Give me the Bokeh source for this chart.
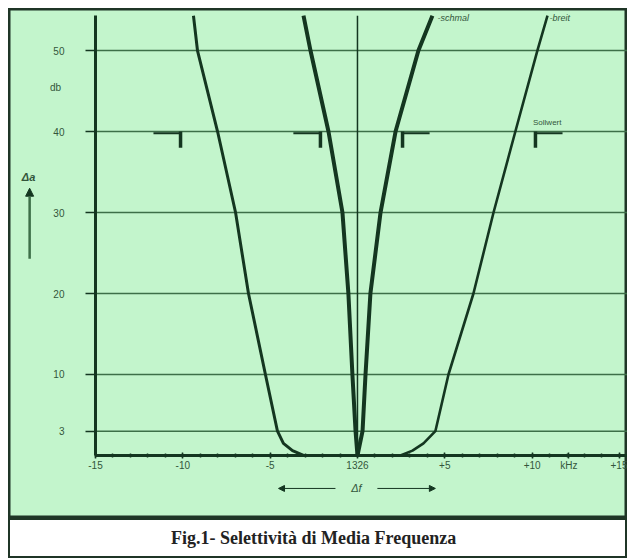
from bokeh.plotting import figure
from bokeh.models import Range1d, FixedTicker, Label, Arrow, NormalHead
from bokeh.layouts import column
from bokeh.embed import file_html
from bokeh.resources import INLINE

# ---- data (kHz offset from 1326 kHz, attenuation in dB) ----
DB_TICKS = [3, 10, 20, 30, 40, 50]
DB_LABELS = ["3", "10", "20", "30", "40", "50"]
KHZ_TICKS = [-15, -10, -5, 0, 5, 10, 12.1, 15]
KHZ_LABELS = ["-15", "-10", "-5", "1326", "+5", "+10", "kHz", "+15"]
KHZ_MINOR = list(range(-15, 16))

breit_left_khz = [-9.39, -9.16, -8.01, -6.98, -6.24, -5.27, -4.58, -4.24, -3.72, -3.09]
breit_left_db = [54.3, 50, 40, 30, 20, 10, 3, 1.5, 0.6, 0]
breit_right_khz = [2.46, 3.15, 3.78, 4.46, 5.21, 6.64, 7.79, 9.04, 10.30, 10.88]
breit_right_db = [0, 0.6, 1.5, 3, 10, 20, 30, 40, 50, 54.3]

schmal_left_khz = [-3.09, -2.69, -1.66, -0.86, -0.52, -0.29, -0.11, 0.0]
schmal_left_db = [54.3, 50, 40, 30, 20, 10, 3, 0]
schmal_right_khz = [0.0, 0.29, 0.46, 0.74, 1.32, 2.18, 3.49, 4.29]
schmal_right_db = [0, 3, 10, 20, 30, 40, 50, 54.3]

SOLL_KHZ = [-10.13, -2.12, 2.58, 10.19]
SOLL_SIDE = [-1, -1, 1, 1]
SOLL_DB = 40

# ---- styling ----
GREEN = "#c3f5cc"
DARK = "#143620"
GRIDC = "#3d6f48"
TEXTC = "#33553b"
BORDER = "#1f3526"

X0, X1 = -19.98, 15.46
Y0, Y1 = -7.78, 55.19

p = figure(width=619, height=510, x_range=Range1d(X0, X1), y_range=Range1d(Y0, Y1),
           output_backend="svg", toolbar_location=None, min_border=0)
p.background_fill_color = GREEN
p.border_fill_color = GREEN
p.outline_line_color = BORDER
p.outline_line_width = 4
p.xgrid.visible = False
p.ygrid.visible = False

# axes placed inside frame
xa = p.xaxis[0]
ya = p.yaxis[0]
xa.fixed_location = 0
ya.fixed_location = -15
xa.bounds = (-15, X1)
ya.bounds = (0, 54.3)
xa.ticker = FixedTicker(ticks=KHZ_TICKS, minor_ticks=KHZ_MINOR)
xa.major_label_overrides = {t: l for t, l in zip(KHZ_TICKS, KHZ_LABELS)}
ya.ticker = FixedTicker(ticks=DB_TICKS, minor_ticks=[])
ya.major_label_overrides = {t: l for t, l in zip(DB_TICKS, DB_LABELS)}
for ax in (xa, ya):
    ax.axis_line_color = DARK
    ax.axis_line_width = 3
    ax.major_tick_line_color = DARK
    ax.major_tick_line_width = 1.5
    ax.minor_tick_line_color = DARK
    ax.minor_tick_line_width = 1.5
    ax.major_label_text_color = TEXTC
    ax.major_label_text_font = "Liberation Sans"
    ax.major_label_text_font_size = "10px"
xa.major_tick_in = 3
xa.major_tick_out = 3
xa.minor_tick_in = 2
xa.minor_tick_out = 2
xa.major_label_standoff = 2
ya.major_tick_in = 0
ya.major_tick_out = 10
ya.major_label_standoff = 21

# horizontal grid lines
p.segment(x0=[-15] * len(DB_TICKS), y0=DB_TICKS, x1=[X1] * len(DB_TICKS), y1=DB_TICKS,
          line_color=GRIDC, line_width=1.5)

# centre line at 1326 kHz
p.segment(x0=[0], y0=[0], x1=[0], y1=[54.3], line_color=DARK, line_width=1.5)

# curves
p.line(breit_left_khz, breit_left_db, line_color=DARK, line_width=3)
p.line(breit_right_khz, breit_right_db, line_color=DARK, line_width=2.6)
p.line(schmal_left_khz, schmal_left_db, line_color=DARK, line_width=4)
p.line(schmal_right_khz, schmal_right_db, line_color=DARK, line_width=4)

# Sollwert markers
p.segment(x0=SOLL_KHZ, y0=[SOLL_DB] * 4, x1=SOLL_KHZ, y1=[SOLL_DB - 2.0] * 4,
          line_color=DARK, line_width=3.5)
p.segment(x0=SOLL_KHZ, y0=[SOLL_DB - 0.2] * 4,
          x1=[k + s * 1.55 for k, s in zip(SOLL_KHZ, SOLL_SIDE)], y1=[SOLL_DB - 0.2] * 4,
          line_color=DARK, line_width=2)

# texts
def lab(x, y, t, size="9px", style="normal", align="left", base="middle", color=TEXTC, font="Liberation Sans"):
    p.add_layout(Label(x=x, y=y, text=t, text_font_size=size, text_font_style=style,
                       text_align=align, text_baseline=base, text_color=color, text_font=font))

lab(-17.29, 45.4, "db", size="10px", align="center")
lab(-18.83, 34.4, "Δa", size="11px", style="bold italic", align="center")
lab(4.58, 54.07, "-schmal", size="9px", style="italic")
lab(10.99, 54.07, "-breit", size="9px", style="italic")
lab(10.05, 40.5, "Sollwert", size="8px", base="bottom")
lab(-0.06, -4.07, "Δf", size="11px", style="italic", align="center")

p.add_layout(Arrow(x_start=-18.77, y_start=24.3, x_end=-18.77, y_end=33.0,
                   line_color=GRIDC, line_width=2.5,
                   end=NormalHead(size=8, fill_color=DARK, line_color=DARK)))
p.add_layout(Arrow(x_start=-1.26, y_start=-4.07, x_end=-4.52, y_end=-4.07,
                   line_color=DARK, line_width=1,
                   end=NormalHead(size=6, fill_color=DARK, line_color=DARK)))
p.add_layout(Arrow(x_start=1.14, y_start=-4.07, x_end=4.46, y_end=-4.07,
                   line_color=DARK, line_width=1,
                   end=NormalHead(size=6, fill_color=DARK, line_color=DARK)))

# caption
c = figure(width=619, height=40, x_range=Range1d(0, 1), y_range=Range1d(0, 1),
           output_backend="svg", toolbar_location=None, min_border=0)
c.axis.visible = False
c.grid.visible = False
c.background_fill_color = "white"
c.border_fill_color = "white"
c.outline_line_color = BORDER
c.outline_line_width = 3
c.add_layout(Label(x=0.493, y=0.525, text="Fig.1- Selettività di Media Frequenza",
                   text_font="Liberation Serif", text_font_style="bold", text_font_size="18px",
                   text_align="center", text_baseline="middle", text_color="#222222"))

lay = column(p, c, spacing=0, margin=(8, 0, 0, 8))
open("out.html", "w").write(file_html(lay, INLINE))
